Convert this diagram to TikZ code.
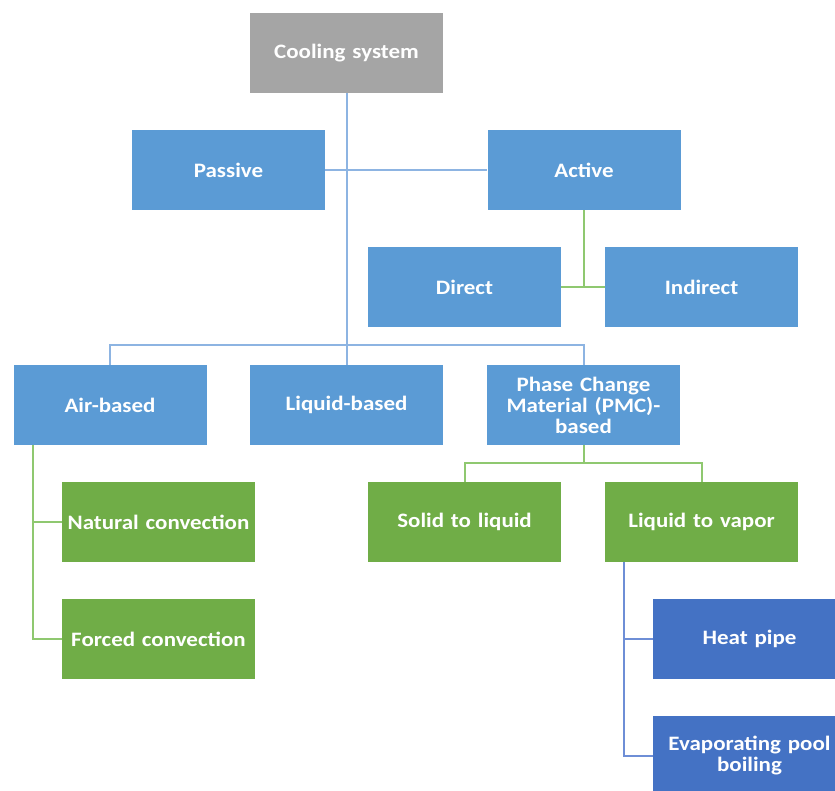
\documentclass[tikz,border=0pt]{standalone}
\usepackage{fontspec}
\setmainfont{Carlito}[FakeStretch=1.12]
\definecolor{boxblue}{HTML}{5B9BD5}
\definecolor{boxgreen}{HTML}{70AD47}
\definecolor{boxdark}{HTML}{4472C4}
\definecolor{boxgray}{HTML}{A5A5A5}
\definecolor{lineblue}{HTML}{8DB4E2}
\definecolor{linegreen}{HTML}{8FC870}
\definecolor{linedark}{HTML}{6E8ED6}
\tikzset{
  box/.style={minimum width=193pt, minimum height=80pt, inner sep=0pt, align=center,
    text width=186pt, text=white, font=\fontsize{20.5}{21}\selectfont\bfseries},
  bluebox/.style={box, fill=boxblue},
  greenbox/.style={box, fill=boxgreen},
  darkbox/.style={box, fill=boxdark},
  graybox/.style={box, fill=boxgray},
  bline/.style={draw=lineblue, line width=2pt},
  gline/.style={draw=linegreen, line width=2pt},
  dline/.style={draw=linedark, line width=2pt}
}
\begin{document}
\begin{tikzpicture}[x=1pt, y=-1pt]
    \useasboundingbox (0,0) rectangle (835,790);
    \node[graybox] (cool) at (346.5,53) {Cooling system}; %top
    \node[bluebox] (pas) at (228.5,170) {Passive};
    \node[bluebox] (act) at (584,170) {Active};
    \node[bluebox] (dir) at (464.5,287) {Direct};
    \node[bluebox] (ind) at (701.5,287) {Indirect};
    \node[bluebox] (air) at (110,405) {Air-based};
    \node[bluebox] (liq) at (346.5,405) {Liquid-based};
    \node[bluebox] (pcm) at (583.5,405) {Phase Change\\Material (PMC)-\\based};
    \node[greenbox] (nat) at (158.5,522) {Natural convection};
    \node[greenbox] (forc) at (158.5,639) {Forced convection};
    \node[greenbox] (sol) at (464.5,522) {Solid to liquid};
    \node[greenbox] (ltv) at (701.5,522) {Liquid to vapor};
    \node[darkbox] (heat) at (749.5,639) {Heat pipe};
    \node[darkbox] (evap) at (749.5,756) {Evaporating pool\\boiling};
    \draw[bline] (cool.south) -- (liq.north); %trunk
    \draw[bline] (pas.east) -- (act.west);
    \draw[bline] (air.north) -- ++(0,-20) -| (pcm.north); %bus
    \draw[gline] (act.south) -- (act.south |- dir.east);
    \draw[gline] (dir.east) -- (ind.west);
    \draw[gline] ([xshift=-77pt]air.south) |- (nat.west);
    \draw[gline] ([xshift=-77pt]air.south) |- (forc.west);
    \draw[gline] (pcm.south) -- ++(0,18) -| (sol.north);
    \draw[gline] (pcm.south) -- ++(0,18) -| (ltv.north);
    \draw[dline] ([xshift=-78pt]ltv.south) |- (heat.west);
    \draw[dline] ([xshift=-78pt]ltv.south) |- (evap.west);
\end{tikzpicture}
\end{document}
